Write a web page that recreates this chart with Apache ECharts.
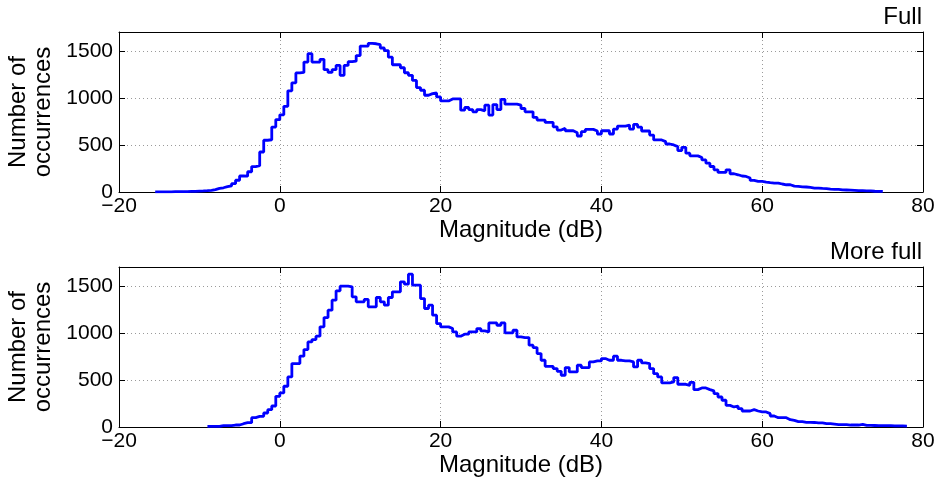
<!DOCTYPE html>
<html><head><meta charset="utf-8">
<script src="https://cdn.jsdelivr.net/npm/echarts@6/dist/echarts.min.js"></script>
<style>html,body{margin:0;padding:0;background:#fff}#c{width:939px;height:480px}</style>
</head><body><div id="c"></div><script>
// ---- data ----
const panelTitles = ['Full', 'More full'];
const xAxisTitle = 'Magnitude (dB)';
const yAxisTitle = 'Number of\noccurrences';
const binWidth = 0.5;

const fullStart = -15.5;
const fullCounts = [
  // -15.5 .. -0.5
  1,1,2,2,3,3,4,5,6,7,9,11,14,18,25,38,45,58,65,88,125,170,168,215,270,280,425,550,555,690,770,
  // 0 .. 12.5
  820,910,1075,1160,1265,1270,1380,1470,1380,1380,1410,1300,1270,1300,1345,1240,1345,1385,1390,1450,1550,1550,1580,1575,1565,1530,
  // 13 .. 27
  1503,1433,1352,1352,1320,1267,1240,1186,1109,1081,1028,1045,1052,1010,968,968,989,989,989,869,898,876,852,876,862,922,817,929,876,
  // 27.5 .. 44.5
  985,933,933,933,922,887,852,852,792,764,764,739,739,693,658,676,651,651,630,595,641,665,665,648,616,651,651,616,669,700,700,711,669,718,690,
  // 45 .. 74.5
  648,648,605,553,553,535,510,500,482,440,475,412,384,384,366,341,306,271,236,208,208,236,194,183,170,165,148,123,113,113,
  106,100,95,95,85,77,77,62,60,55,53,48,42,42,38,35,30,28,28,22,21,20,18,14,14,13,12,8,7,6
];

const moreFullStart = -9;
const moreFullCounts = [
  // -9 .. -0.5
  7,7,7,14,14,14,21,21,35,46,46,99,113,113,149,184,223,326,
  // 0 .. 12.5
  362,433,532,674,674,752,823,904,929,965,1064,1163,1241,1347,1447,1496,1496,1489,1383,1330,1330,1355,1277,1277,1376,1330,
  // 13 .. 24.5
  1294,1376,1436,1436,1543,1518,1624,1507,1507,1365,1259,1294,1188,1099,1064,1064,1046,1010,965,986,986,1010,1010,1046,
  // 25 .. 36.5
  1021,1010,1106,1106,1081,1106,1000,1000,1028,957,950,950,869,844,780,709,645,645,621,592,550,631,585,585,
  // 37 .. 48.5
  656,631,631,691,702,702,727,709,709,752,709,702,702,691,638,709,681,674,621,567,532,468,468,479,
  // 49 .. 60.5
  525,454,454,443,475,397,415,415,397,383,355,319,284,230,213,223,195,170,170,184,170,160,160,142,
  // 61 .. 77.5
  117,99,99,99,78,70,57,57,50,50,48,43,43,35,35,30,25,25,25,21,21,21,28,18,18,16,14,14,14,14,12,11,11,10
];

const xMin = -20, xMax = 80, xStep = 20;
const yMin = 0, yMax = 1700, yStep = 500;

// ---- build ----
function toSteps(start, counts) {
  const pts = counts.map((v, i) => [start + i * binWidth, v]);
  pts.push([start + counts.length * binWidth, counts[counts.length - 1]]);
  return pts;
}
const FONT = 'Liberation Sans, Arial, Helvetica, sans-serif';
const TICK_FS = 21, LABEL_FS = 24;
const gridTops = [32, 267];
const gridH = 160;

const grids = [], xAxes = [], yAxes = [], series = [], titles = [];
const datasets = [[fullStart, fullCounts], [moreFullStart, moreFullCounts]];
datasets.forEach((d, gi) => {
  grids.push({ left: 119, right: 16, top: gridTops[gi], height: gridH, outerBoundsMode: 'none', containLabel: false });
  xAxes.push({
    type: 'value', gridIndex: gi, min: xMin, max: xMax, interval: xStep,
    name: xAxisTitle, nameLocation: 'middle', nameGap: 23,
    nameTextStyle: { fontFamily: FONT, fontSize: LABEL_FS, color: '#000' },
    axisLine: { show: true, onZero: false, lineStyle: { color: '#000', width: 1 } },
    axisTick: { show: true, inside: true, length: 6, lineStyle: { color: '#000' } },
    axisLabel: { show: true, margin: 4, fontFamily: FONT, fontSize: TICK_FS, color: '#000',
      formatter: v => String(v).replace('-', '\u2212') },
    splitLine: { show: true, lineStyle: { color: '#9a9a9a', type: [1, 3], width: 1 } }
  });
  xAxes.push({
    type: 'value', gridIndex: gi, min: xMin, max: xMax, interval: xStep, position: 'top',
    axisLine: { show: true, onZero: false, lineStyle: { color: '#000', width: 1 } },
    axisTick: { show: true, inside: true, length: 6, lineStyle: { color: '#000' } },
    axisLabel: { show: false }, splitLine: { show: false }
  });
  yAxes.push({
    type: 'value', gridIndex: gi, min: yMin, max: yMax, interval: yStep,
    name: yAxisTitle, nameLocation: 'middle', nameGap: 59, nameRotate: 90,
    nameTextStyle: { fontFamily: FONT, fontSize: LABEL_FS, color: '#000', lineHeight: 25, align: 'center' },
    axisLine: { show: true, onZero: false, lineStyle: { color: '#000', width: 1 } },
    axisTick: { show: true, inside: true, length: 6, lineStyle: { color: '#000' } },
    axisLabel: { show: true, margin: 6, fontFamily: FONT, fontSize: TICK_FS, color: '#000',
      formatter: v => (v % yStep === 0 ? String(v) : '') },
    splitLine: { show: true, lineStyle: { color: '#9a9a9a', type: [1, 3], width: 1 } }
  });
  yAxes.push({
    type: 'value', gridIndex: gi, min: yMin, max: yMax, interval: yStep, position: 'right',
    axisLine: { show: true, onZero: false, lineStyle: { color: '#000', width: 1 } },
    axisTick: { show: true, inside: true, length: 6, lineStyle: { color: '#000' } },
    axisLabel: { show: false }, splitLine: { show: false }
  });
  series.push({
    type: 'line', step: 'end', xAxisIndex: gi * 2, yAxisIndex: gi * 2,
    data: toSteps(d[0], d[1]), symbol: 'none', clip: true, animation: false,
    lineStyle: { color: '#0000ff', width: 2.8 }
  });
  titles.push({
    text: panelTitles[gi], right: 17, top: gridTops[gi] - 27, padding: 0,
    textStyle: { fontFamily: FONT, fontSize: LABEL_FS, fontWeight: 'normal', color: '#000' }
  });
});

const chart = echarts.init(document.getElementById('c'), null, { renderer: 'canvas' });
chart.setOption({
  animation: false,
  backgroundColor: '#fff',
  title: titles,
  grid: grids,
  xAxis: xAxes,
  yAxis: yAxes,
  series: series
});
</script></body></html>
